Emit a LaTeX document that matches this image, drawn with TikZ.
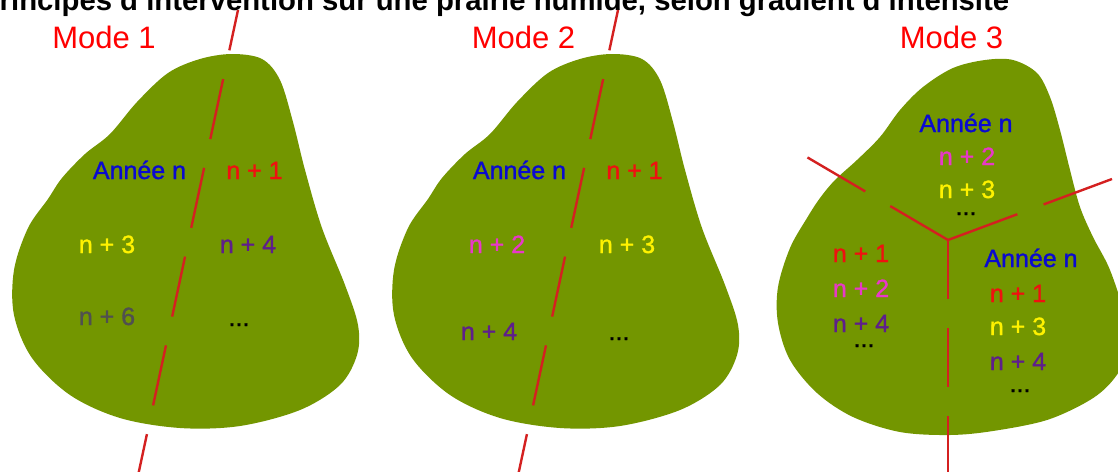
\documentclass[tikz,border=0pt]{standalone}
\usepackage{fontspec}
\setmainfont{Liberation Sans}
\newfontface\yearface{Liberation Sans}[FakeBold=1.2]
\usepackage{tikz}
\usetikzlibrary{positioning}
\usepackage{xcolor}
\definecolor{meadow}{HTML}{739600}
\definecolor{cutred}{HTML}{D42020}
\definecolor{yearblue}{HTML}{0A0AD0}
\definecolor{yearred}{HTML}{F01010}
\definecolor{yearyellow}{HTML}{FFFF10}
\definecolor{yearpink}{HTML}{E838C8}
\definecolor{yearpurple}{HTML}{5E1E8C}
\definecolor{yeargrey}{HTML}{505050}
\newcommand{\pasture}{plot[smooth cycle,tension=0.55] coordinates {
  (232,54) (262,59) (280,80) (293,122) (305,170) (322,228) (345,285)
  (358,325) (357,355) (340,385) (300,410) (240,426) (180,428) (120,418)
  (70,395) (32,358) (14,315) (14,270) (28,228) (48,199) (62,178)
  (85,154) (110,134) (137,102) (168,73) (200,59)}}

\begin{document}
\begin{tikzpicture}[x=1pt,y=-1pt,
  year/.style={font=\yearface\fontsize{25}{30}\selectfont,text=#1,anchor=base,inner sep=0pt},
  modelabel/.style={font=\fontsize{31}{36}\selectfont,text=red,anchor=base,inner sep=0pt},
  cutline/.style={cutred,line width=2.4pt},
]
  \useasboundingbox (0,0) rectangle (1118,471);
  \clip (0,0) rectangle (1118,471);

  \node[font=\bfseries\fontsize{29.3}{34}\selectfont,anchor=base west,inner sep=0pt] (title)
    at (-20,10) {Principes d'intervention sur une prairie humide, selon gradient d'intensité};

  % Mode 1
  \fill[meadow] \pasture;
  \coordinate (cutAtop) at (238,10);
  \coordinate (cutAbot) at (136,485);
  \draw[cutline,dash pattern=on 61.4pt off 29.4pt,dash phase=20.2pt] (cutAtop) -- (cutAbot);
  \node[modelabel] (mode1) at (104,48) {Mode 1};
  \node[year=yearblue] (a1) at (139.5,179) {Année n};
  \node[year=yearred] (a2) at (254.5,179) {n + 1};
  \node[year=yellow] (a3) at (107,253) {n + 3};
  \node[year=yearpurple] (a4) at (248,253) {n + 4};
  \node[year=yeargrey] (a5) at (107,325) {n + 6};
  \node[year=black] (a6) at (239,326) {...};

  % Mode 2
  \begin{scope}[xshift=380pt]
    \fill[meadow] \pasture;
    \coordinate (cutBtop) at (238,10);
    \coordinate (cutBbot) at (136,485);
    \draw[cutline,dash pattern=on 61.4pt off 29.4pt,dash phase=20.2pt] (cutBtop) -- (cutBbot);
  \end{scope}
  \node[modelabel] (mode2) at (523.5,48) {Mode 2};
  \node[year=yearblue] (b1) at (519.5,179) {Année n};
  \node[year=yearred] (b2) at (634.5,179) {n + 1};
  \node[year=yearpink] (b3) at (497,253) {n + 2};
  \node[year=yellow] (b4) at (627,253) {n + 3};
  \node[year=yearpurple] (b5) at (489,340) {n + 4};
  \node[year=black] (b6) at (619,340) {...};

  % Mode 3
  \fill[meadow] plot[smooth cycle,tension=0.55] coordinates {
    (1013,60) (1037,73) (1050,97) (1060,130) (1070,170) (1080,207)
    (1093,237) (1110,270) (1124,315) (1126,355) (1113,380) (1090,400)
    (1047,420) (993,431) (950,435) (900,432) (853,417) (817,393)
    (790,360) (778,323) (778,287) (790,248) (807,218) (820,198)
    (835,180) (857,160) (880,137) (900,110) (923,87) (953,68) (985,60)};
  \coordinate (hub) at (948,240);
  \coordinate (armwest) at (805,156);
  \coordinate (armeast) at (1112,179);
  \coordinate (armsouth) at (948,480);
  \draw[cutline,dash pattern=on 67pt off 29pt] (hub) -- (armwest);
  \draw[cutline,dash pattern=on 74pt off 28pt] (hub) -- (armeast);
  \draw[cutline,dash pattern=on 59pt off 29pt] (hub) -- (armsouth);
  \node[modelabel] (mode3) at (951.5,48) {Mode 3};
  \node[year=yearblue] (c1) at (966,132) {Année n};
  \node[year=yearpink] (c2) at (967,165) {n + 2};
  \node[year=yellow] (c3) at (967,198) {n + 3};
  \node[year=black] (c4) at (966,215) {...};
  \node[year=yearred] (c5) at (861,262) {n + 1};
  \node[year=yearpink] (c6) at (861,297) {n + 2};
  \node[year=yearpurple] (c7) at (861,332) {n + 4};
  \node[year=black] (c8) at (864,347) {...};
  \node[year=yearblue] (c9) at (1031,267) {Année n};
  \node[year=yearred] (c10) at (1018,302) {n + 1};
  \node[year=yellow] (c11) at (1018,335) {n + 3};
  \node[year=yearpurple] (c12) at (1018,370) {n + 4};
  \node[year=black] (c13) at (1020,392) {...};
\end{tikzpicture}
\end{document}
